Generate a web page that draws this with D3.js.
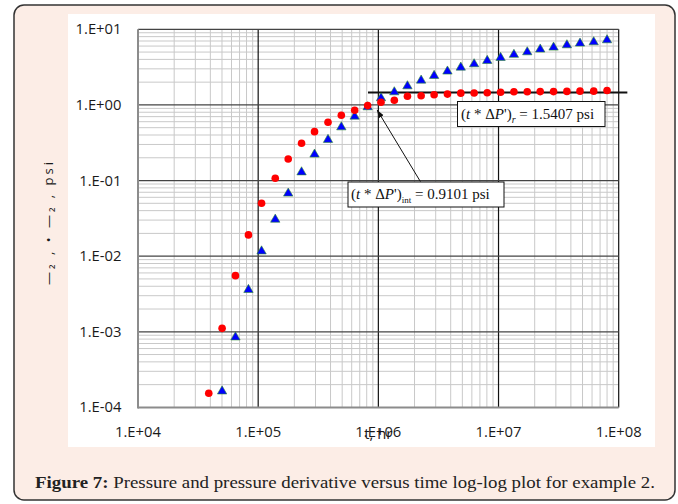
<!DOCTYPE html>
<html>
<head>
<meta charset="utf-8">
<script src="https://cdn.jsdelivr.net/npm/d3@7"></script>
<style>
  body { margin: 0; background: #fff; }
  svg { display: block; }
</style>
</head>
<body>
<svg width="678" height="504"></svg>
<script>
// time, hr (shared by both series)
var time = [38800, 50100, 64700, 83000, 106700, 138700, 177800, 229600, 294400, 381100,
  492000, 635300, 814700, 1052000, 1358000, 1746000, 2270000, 2911000, 3758000, 4853000,
  6266000, 8054000, 10400000, 13430000, 17340000, 22230000, 28710000, 37070000, 47640000,
  61940000, 79980000];

// pressure drop, psi (blue triangles) - first time has no value
var deltaP = [null, 1.66e-4, 8.6e-4, 3.65e-3, 0.0118, 0.031, 0.0686, 0.131, 0.225, 0.352,
  0.516, 0.715, 0.95, 1.25, 1.5, 1.8, 2.14, 2.47, 2.82, 3.18,
  3.52, 3.9, 4.27, 4.69, 5.07, 5.51, 5.85, 6.28, 6.61, 6.88, 7.31];

// pressure derivative t*dP', psi (red circles)
var derivative = [1.54e-4, 1.11e-3, 5.52e-3, 0.0191, 0.0501, 0.107, 0.193, 0.311, 0.443, 0.591,
  0.731, 0.851, 0.979, 1.086, 1.154, 1.30, 1.32, 1.36, 1.39, 1.43,
  1.44, 1.45, 1.47, 1.49, 1.49, 1.50, 1.50, 1.51, 1.52, 1.52, 1.55];

var xTicks = [1e4, 1e5, 1e6, 1e7, 1e8];
var xTickLabels = ["1.E+04", "1.E+05", "1.E+06", "1.E+07", "1.E+08"];
var yTicks = [1e-4, 1e-3, 1e-2, 1e-1, 1e0, 1e1];
var yTickLabels = ["1.E-04", "1.E-03", "1.E-02", "1.E-01", "1.E+00", "1.E+01"];

// radial flow line and annotations
var radialLine = {t0: 820000, t1: 1.18e8, value: 1.455};
var arrowFrom = {t: 2.24e6, v: 0.0967};
var arrowTo = {t: 976000, v: 0.859};

var svg = d3.select("svg");

// page frame
svg.append("rect")
  .attr("x", 14).attr("y", 5).attr("width", 661).attr("height", 495)
  .attr("rx", 10)
  .attr("fill", "#fcede6").attr("stroke", "#333").attr("stroke-width", 1.5);
svg.append("rect")
  .attr("x", 68).attr("y", 14).attr("width", 587).attr("height", 433)
  .attr("fill", "#fff");

var x = d3.scaleLog().domain([1e4, 1e8]).range([138, 618.7]);
var y = d3.scaleLog().domain([1e-4, 1e1]).range([407.4, 29.3]);

var g = svg.append("g");

// minor grid
var minorX = [], minorY = [];
xTicks.slice(0, -1).forEach(function(d) { for (var k = 2; k <= 9; k++) minorX.push(d * k); });
yTicks.slice(0, -1).forEach(function(d) { for (var k = 2; k <= 9; k++) minorY.push(d * k); });

g.selectAll(".mx").data(minorX).enter().append("line")
  .attr("x1", d => x(d)).attr("x2", d => x(d))
  .attr("y1", y.range()[0]).attr("y2", y.range()[1])
  .attr("stroke", "#c9c9c9").attr("stroke-width", 1);
g.selectAll(".my").data(minorY).enter().append("line")
  .attr("y1", d => y(d)).attr("y2", d => y(d))
  .attr("x1", x.range()[0]).attr("x2", x.range()[1])
  .attr("stroke", "#c9c9c9").attr("stroke-width", 1);

// major grid
g.selectAll(".Mx").data(xTicks.slice(1)).enter().append("line")
  .attr("x1", d => x(d)).attr("x2", d => x(d))
  .attr("y1", y.range()[0]).attr("y2", y.range()[1])
  .attr("stroke", "#111").attr("stroke-width", 1.2);
g.selectAll(".My").data(yTicks.slice(1)).enter().append("line")
  .attr("y1", d => y(d)).attr("y2", d => y(d))
  .attr("x1", x.range()[0]).attr("x2", x.range()[1])
  .attr("stroke", "#444").attr("stroke-width", 1.2);

// axes lines (left / bottom)
g.append("line").attr("x1", x(1e4)).attr("x2", x(1e4))
  .attr("y1", y(1e-4) + 1).attr("y2", y(1e1))
  .attr("stroke", "#8c8c8c").attr("stroke-width", 2);
g.append("line").attr("x1", x(1e4)).attr("x2", x(1e8))
  .attr("y1", y(1e-4)).attr("y2", y(1e-4))
  .attr("stroke", "#8c8c8c").attr("stroke-width", 2);

// tick labels: size the font so "1.E+00" is about 46px wide, as in the source
var tickFont = "'Open Sans', sans-serif";
var probe = svg.append("text").attr("font-family", tickFont).attr("font-size", 10).text("1.E+00");
var tickSize = 10 * 46 / probe.node().getComputedTextLength();
probe.remove();

svg.selectAll(".xl").data(xTicks).enter().append("text")
  .attr("x", d => x(d)).attr("y", 436.5)
  .attr("text-anchor", "middle")
  .attr("font-family", tickFont).attr("font-size", tickSize).attr("fill", "#1a1a1a")
  .text((d, i) => xTickLabels[i]);
svg.selectAll(".yl").data(yTicks).enter().append("text")
  .attr("x", 121.5).attr("y", d => y(d) + 5)
  .attr("text-anchor", "end")
  .attr("font-family", tickFont).attr("font-size", tickSize).attr("fill", "#1a1a1a")
  .text((d, i) => yTickLabels[i]);

// axis titles (as rendered in the source, overlapping / broken)
svg.append("text")
  .attr("x", x(1e6)).attr("y", 439).attr("text-anchor", "middle")
  .attr("font-family", tickFont).attr("font-size", tickSize).attr("fill", "#1a1a1a")
  .text("t, hr");
svg.append("text")
  .attr("transform", "translate(53,222) rotate(-90)")
  .attr("text-anchor", "middle")
  .attr("font-family", tickFont).attr("font-size", 13).attr("fill", "#1a1a1a")
  .attr("letter-spacing", 3)
  .text("—₂ , • —₂ , psi");

// radial flow line
g.append("line")
  .attr("x1", x(radialLine.t0)).attr("x2", x(radialLine.t1))
  .attr("y1", y(radialLine.value)).attr("y2", y(radialLine.value))
  .attr("stroke", "#111").attr("stroke-width", 2);

// pressure (blue triangles)
var pData = time.map((t, i) => ({t: t, v: deltaP[i]})).filter(d => d.v != null);
g.selectAll(".tri").data(pData).enter().append("path")
  .attr("d", d3.symbol().type(d3.symbolTriangle).size(38))
  .attr("transform", d => "translate(" + x(d.t) + "," + (y(d.v) + 0.5) + ")")
  .attr("fill", "#0000ff").attr("stroke", "#2e8b2e").attr("stroke-width", 0.6);

// derivative (red circles)
var dData = time.map((t, i) => ({t: t, v: derivative[i]}));
g.selectAll(".dot").data(dData).enter().append("circle")
  .attr("cx", d => x(d.t)).attr("cy", d => y(d.v))
  .attr("r", 3.8).attr("fill", "#ff0000");

// arrow
svg.append("defs").append("marker")
  .attr("id", "ah").attr("viewBox", "0 0 10 10")
  .attr("refX", 10).attr("refY", 5)
  .attr("markerWidth", 8).attr("markerHeight", 8)
  .attr("orient", "auto")
  .append("path").attr("d", "M0,1.5 L10,5 L0,8.5 Z").attr("fill", "#111");
g.append("line")
  .attr("x1", x(arrowFrom.t)).attr("y1", y(arrowFrom.v))
  .attr("x2", x(arrowTo.t)).attr("y2", y(arrowTo.v))
  .attr("stroke", "#111").attr("stroke-width", 1)
  .attr("marker-end", "url(#ah)");

// annotation boxes
function box(bx, by, bw, bh) {
  svg.append("rect").attr("x", bx).attr("y", by).attr("width", bw).attr("height", bh)
    .attr("fill", "#fff").attr("stroke", "#111").attr("stroke-width", 1);
}
var serif = "'Liberation Serif', 'Times New Roman', serif";

box(457.5, 101.5, 147.5, 25);
var t1 = svg.append("text").attr("x", 461).attr("y", 118.5)
  .attr("font-family", serif).attr("font-size", 15).attr("fill", "#111");
t1.append("tspan").text("(");
t1.append("tspan").attr("font-style", "italic").text("t");
t1.append("tspan").text(" * Δ");
t1.append("tspan").attr("font-style", "italic").text("P");
t1.append("tspan").text("')");
t1.append("tspan").attr("font-style", "italic").attr("font-size", 10).attr("dy", 4).text("r");
t1.append("tspan").attr("dy", -4).text(" = 1.5407 psi");

box(348, 182, 156, 25);
var t2 = svg.append("text").attr("x", 351).attr("y", 199)
  .attr("font-family", serif).attr("font-size", 15).attr("fill", "#111");
t2.append("tspan").text("(");
t2.append("tspan").attr("font-style", "italic").text("t");
t2.append("tspan").text(" * Δ");
t2.append("tspan").attr("font-style", "italic").text("P");
t2.append("tspan").text("')");
t2.append("tspan").attr("font-size", 9).attr("dy", 4).text("int");
t2.append("tspan").attr("dy", -4).text(" = 0.9101 psi");

// caption
var cap = svg.append("text").attr("x", 35).attr("y", 488)
  .attr("font-family", serif).attr("font-size", 16).attr("fill", "#222");
cap.append("tspan").attr("font-weight", "bold").text("Figure 7:");
cap.append("tspan").text(" Pressure and pressure derivative versus time log-log plot for example 2.");
cap.attr("textLength", 620).attr("lengthAdjust", "spacingAndGlyphs");
</script>
</body>
</html>
